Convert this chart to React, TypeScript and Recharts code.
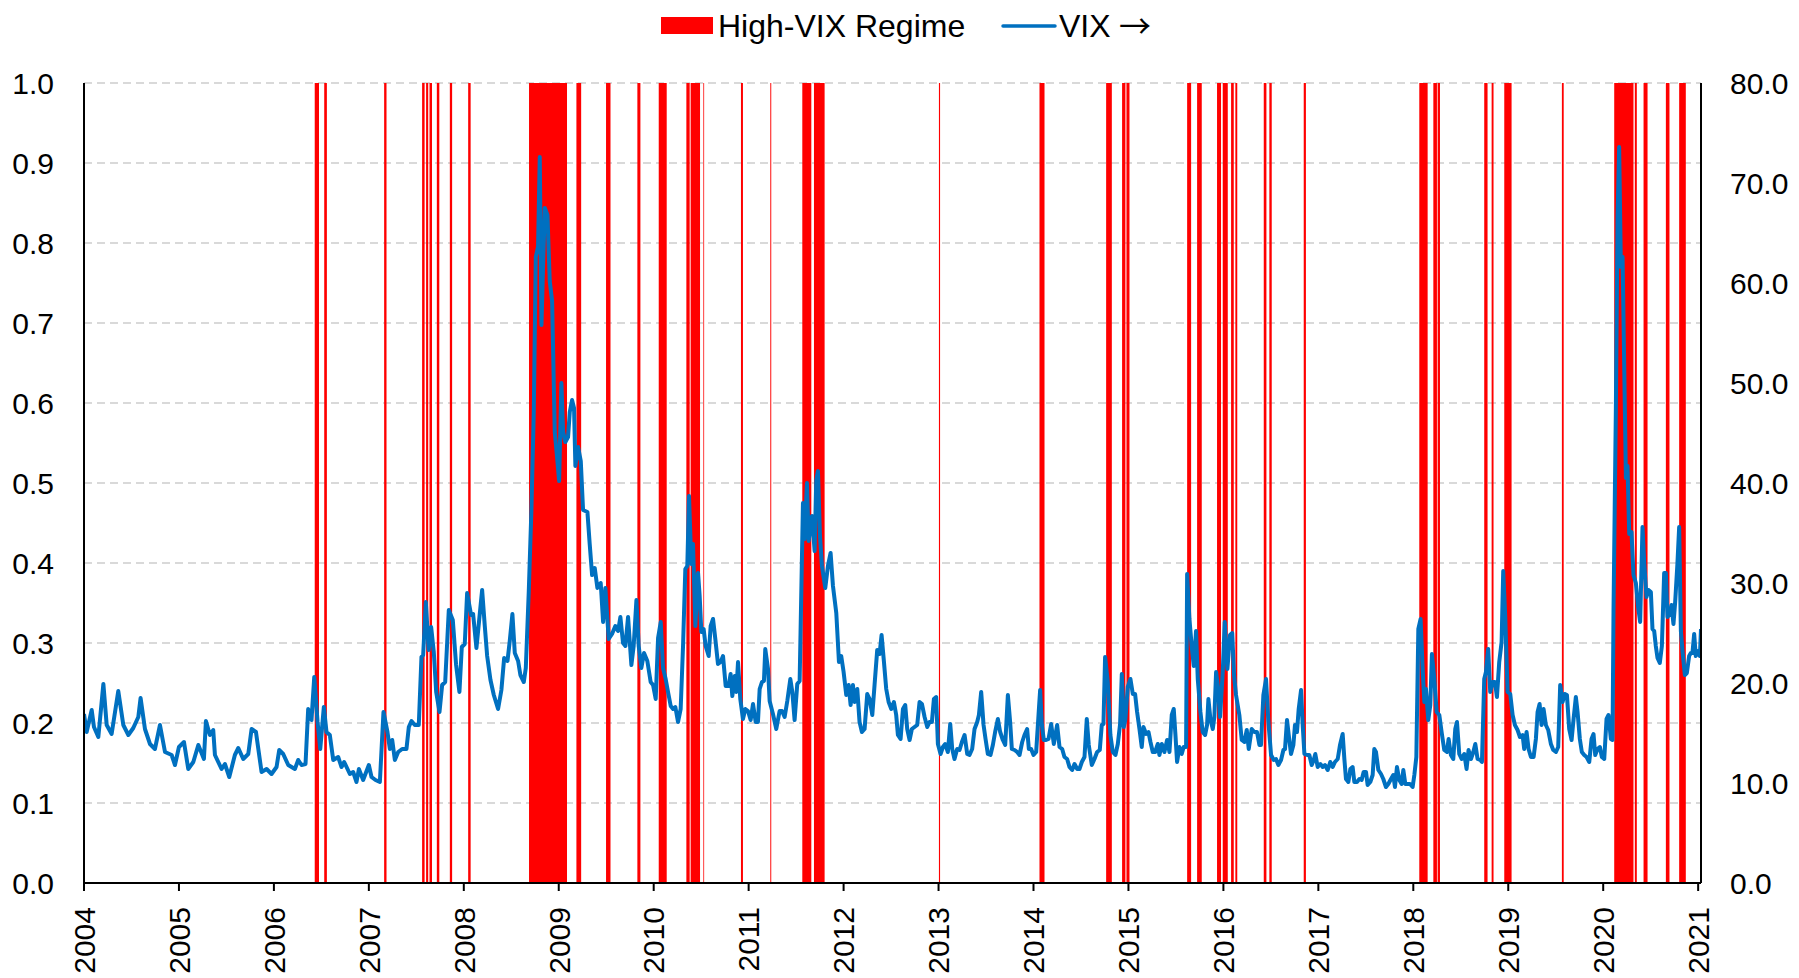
import { ComposedChart, Area, Line, XAxis, YAxis, CartesianGrid } from 'recharts'

// weekly-ish VIX readings: [year fraction, level]
const vix2004 = [
  [2004.0, 16.9], [2004.028, 15.1], [2004.081, 17.3], [2004.105, 15.6], [2004.151, 14.6], [2004.204, 19.9],
  [2004.239, 15.8], [2004.291, 14.9], [2004.361, 19.2], [2004.414, 15.8], [2004.467, 14.8], [2004.519, 15.5],
  [2004.572, 16.6], [2004.596, 18.5], [2004.642, 15.4], [2004.695, 13.9], [2004.747, 13.4], [2004.8, 15.8],
  [2004.853, 13.1], [2004.923, 12.8], [2004.958, 11.8],
]
const vix2005 = [
  [2005.0, 13.6], [2005.053, 14.1], [2005.098, 11.4], [2005.151, 12.1], [2005.204, 13.8], [2005.263, 12.4],
  [2005.284, 16.2], [2005.326, 14.8], [2005.361, 15.3], [2005.379, 12.8], [2005.449, 11.4], [2005.484, 11.9],
  [2005.53, 10.6], [2005.589, 12.8], [2005.625, 13.5], [2005.677, 12.4], [2005.73, 12.9], [2005.765, 15.4],
  [2005.811, 15.1], [2005.87, 11.1], [2005.923, 11.4], [2005.975, 10.9],
]
const vix2006 = [
  [2006.028, 11.6], [2006.056, 13.3], [2006.098, 12.9], [2006.151, 11.8], [2006.221, 11.4], [2006.256, 12.3],
  [2006.291, 11.8], [2006.333, 11.9], [2006.361, 17.4], [2006.396, 16.3], [2006.425, 20.6], [2006.46, 16.1],
  [2006.488, 13.4], [2006.526, 17.6], [2006.554, 15.1], [2006.589, 14.8], [2006.625, 12.3], [2006.677, 12.6],
  [2006.712, 11.6], [2006.74, 12.1], [2006.8, 10.9], [2006.835, 11.1], [2006.87, 10.1], [2006.895, 11.4],
  [2006.94, 10.3],
]
const vix2007 = [
  [2007.0, 11.8], [2007.028, 10.6], [2007.07, 10.3], [2007.116, 10.1], [2007.154, 17.1], [2007.196, 15.1],
  [2007.221, 13.4], [2007.246, 14.3], [2007.274, 12.3], [2007.309, 13.1], [2007.351, 13.4], [2007.396, 13.4],
  [2007.421, 15.6], [2007.449, 16.2], [2007.484, 15.8], [2007.526, 15.8], [2007.554, 22.6], [2007.572, 22.8],
  [2007.6, 28.1], [2007.63, 23.3], [2007.656, 25.6], [2007.684, 23.1], [2007.709, 19.1], [2007.744, 17.1],
  [2007.772, 19.8], [2007.804, 20.1], [2007.842, 27.3], [2007.884, 26.3], [2007.919, 21.8], [2007.954, 19.1],
  [2007.979, 23.6],
]
const vix2008 = [
  [2008.01, 23.9], [2008.035, 29.0], [2008.077, 26.8], [2008.098, 26.9], [2008.133, 23.5], [2008.168, 26.9],
  [2008.193, 29.3], [2008.221, 25.7], [2008.246, 22.7], [2008.281, 20.3], [2008.316, 18.8], [2008.361, 17.4],
  [2008.396, 19.3], [2008.425, 22.5], [2008.46, 22.2], [2008.484, 24.2], [2008.512, 26.9], [2008.537, 23.0],
  [2008.572, 22.2], [2008.596, 20.8], [2008.632, 20.1], [2008.653, 21.5], [2008.684, 29.1], [2008.712, 37.3],
  [2008.737, 47.1], [2008.758, 62.6], [2008.782, 63.6], [2008.8, 72.6], [2008.818, 55.8], [2008.835, 61.7],
  [2008.853, 67.5], [2008.881, 66.8], [2008.905, 60.2], [2008.93, 58.2], [2008.958, 45.1], [2008.986, 42.2],
]
const vix2009 = [
  [2009.004, 40.2], [2009.028, 50.0], [2009.046, 45.1], [2009.07, 44.1], [2009.098, 44.6], [2009.116, 47.1],
  [2009.14, 48.3], [2009.161, 47.5], [2009.175, 41.7], [2009.204, 43.6], [2009.232, 42.2], [2009.256, 37.3],
  [2009.302, 37.1], [2009.326, 33.9], [2009.351, 30.8], [2009.379, 31.5], [2009.407, 29.5], [2009.442, 30.0],
  [2009.467, 26.1], [2009.491, 29.5], [2009.526, 24.4], [2009.561, 24.9], [2009.596, 25.7], [2009.625, 25.2],
  [2009.649, 26.6], [2009.677, 24.0], [2009.702, 23.7], [2009.73, 26.6], [2009.765, 21.8], [2009.789, 23.7],
  [2009.818, 28.3], [2009.842, 23.7], [2009.87, 21.5], [2009.898, 23.0], [2009.933, 22.2], [2009.968, 20.1],
  [2009.993, 19.8],
]
const vix2010 = [
  [2010.021, 18.4], [2010.046, 24.5], [2010.074, 26.1], [2010.098, 21.5], [2010.126, 20.4], [2010.151, 19.1],
  [2010.179, 17.7], [2010.204, 17.4], [2010.228, 17.6], [2010.256, 16.1], [2010.284, 17.4], [2010.309, 23.7],
  [2010.333, 31.4], [2010.354, 31.7], [2010.372, 38.7], [2010.396, 31.9], [2010.414, 33.9], [2010.439, 25.7],
  [2010.467, 31.0], [2010.484, 28.7], [2010.502, 25.1], [2010.526, 25.4], [2010.547, 23.7], [2010.579, 22.7],
  [2010.6, 25.7], [2010.625, 26.4], [2010.649, 24.4], [2010.677, 21.9], [2010.705, 22.1], [2010.73, 22.7],
  [2010.758, 19.7], [2010.789, 19.7], [2010.81, 20.9], [2010.828, 18.7], [2010.853, 20.7], [2010.87, 19.1],
  [2010.888, 22.1], [2010.912, 18.4], [2010.94, 16.4], [2010.965, 17.4], [2010.993, 17.2],
]
const vix2011 = [
  [2011.021, 16.3], [2011.046, 17.9], [2011.074, 16.1], [2011.098, 16.1], [2011.116, 19.4], [2011.14, 20.1],
  [2011.161, 20.2], [2011.175, 23.4], [2011.204, 21.4], [2011.221, 18.2], [2011.256, 16.9], [2011.291, 15.4],
  [2011.326, 17.2], [2011.351, 17.2], [2011.379, 16.6], [2011.407, 18.2], [2011.439, 20.4], [2011.46, 19.1],
  [2011.484, 16.3], [2011.512, 19.9], [2011.537, 20.2], [2011.572, 38.0], [2011.589, 34.4], [2011.614, 40.0],
  [2011.632, 34.2], [2011.649, 35.4], [2011.667, 36.7], [2011.695, 33.2], [2011.712, 40.3], [2011.73, 41.2],
  [2011.751, 34.7], [2011.772, 31.7], [2011.807, 29.5], [2011.835, 31.7], [2011.863, 33.0], [2011.888, 29.7],
  [2011.923, 27.0], [2011.951, 22.1], [2011.975, 22.7],
]
const vix2012 = [
  [2012.0, 21.1], [2012.028, 18.8], [2012.053, 19.8], [2012.074, 17.8], [2012.098, 19.8], [2012.116, 18.1],
  [2012.144, 19.4], [2012.168, 16.1], [2012.193, 15.1], [2012.221, 15.4], [2012.249, 18.9], [2012.274, 18.4],
  [2012.302, 16.8], [2012.326, 19.8], [2012.354, 23.3], [2012.379, 22.9], [2012.4, 24.8], [2012.425, 22.1],
  [2012.449, 19.4], [2012.474, 18.1], [2012.502, 17.4], [2012.53, 18.1], [2012.554, 16.8], [2012.572, 14.8],
  [2012.6, 14.4], [2012.625, 17.4], [2012.649, 17.8], [2012.67, 15.4], [2012.695, 14.3], [2012.719, 15.4],
  [2012.747, 15.6], [2012.775, 15.8], [2012.8, 18.1], [2012.825, 17.9], [2012.853, 16.6], [2012.881, 15.6],
  [2012.905, 16.1], [2012.93, 16.1], [2012.951, 18.4], [2012.975, 18.6], [2012.993, 13.9],
]
const vix2013 = [
  [2013.021, 12.9], [2013.046, 13.6], [2013.07, 13.9], [2013.098, 13.1], [2013.123, 15.9], [2013.144, 13.4],
  [2013.168, 12.4], [2013.196, 13.4], [2013.221, 13.3], [2013.246, 14.1], [2013.274, 14.8], [2013.302, 12.9],
  [2013.326, 12.8], [2013.354, 13.4], [2013.379, 15.4], [2013.407, 16.1], [2013.425, 16.8], [2013.449, 19.1],
  [2013.474, 15.8], [2013.495, 14.4], [2013.519, 12.9], [2013.547, 12.8], [2013.572, 13.8], [2013.596, 15.1],
  [2013.625, 16.4], [2013.649, 15.1], [2013.677, 14.3], [2013.702, 13.8], [2013.73, 18.8], [2013.754, 16.1],
  [2013.772, 13.4], [2013.8, 13.3], [2013.828, 13.1], [2013.853, 12.8], [2013.881, 14.1], [2013.905, 14.8],
  [2013.933, 15.4], [2013.951, 13.4], [2013.975, 13.4],
]
const vix2014 = [
  [2014.0, 12.8], [2014.028, 13.1], [2014.053, 16.8], [2014.07, 19.3], [2014.088, 15.8], [2014.109, 14.3],
  [2014.133, 14.3], [2014.158, 14.4], [2014.186, 15.9], [2014.214, 13.9], [2014.249, 15.8], [2014.274, 13.6],
  [2014.302, 13.4], [2014.326, 12.6], [2014.354, 12.4], [2014.379, 11.6], [2014.407, 11.3], [2014.432, 11.9],
  [2014.46, 11.4], [2014.484, 11.4], [2014.509, 12.1], [2014.537, 12.6], [2014.561, 16.4], [2014.582, 13.8],
  [2014.614, 11.8], [2014.642, 12.4], [2014.67, 13.1], [2014.698, 13.3], [2014.719, 15.8], [2014.737, 15.9],
  [2014.754, 22.6], [2014.782, 20.1], [2014.81, 14.8], [2014.835, 13.1], [2014.863, 12.8], [2014.888, 13.9],
  [2014.912, 15.9], [2014.93, 20.9], [2014.951, 15.6], [2014.968, 16.4], [2014.993, 19.6],
]
const vix2015 = [
  [2015.021, 20.4], [2015.046, 18.9], [2015.07, 18.9], [2015.091, 17.1], [2015.116, 15.4], [2015.14, 13.6],
  [2015.158, 15.6], [2015.186, 14.9], [2015.211, 15.1], [2015.232, 14.1], [2015.256, 13.1], [2015.281, 13.1],
  [2015.309, 13.9], [2015.326, 12.8], [2015.351, 13.9], [2015.379, 13.1], [2015.407, 14.3], [2015.432, 13.1],
  [2015.456, 16.8], [2015.477, 17.4], [2015.495, 14.8], [2015.512, 12.1], [2015.537, 13.6], [2015.561, 12.9],
  [2015.582, 13.6], [2015.607, 13.6], [2015.618, 30.9], [2015.642, 26.4], [2015.667, 23.6], [2015.688, 21.7],
  [2015.712, 25.2], [2015.73, 20.4], [2015.758, 17.1], [2015.782, 15.1], [2015.807, 14.8], [2015.828, 15.8],
  [2015.842, 18.4], [2015.863, 16.4], [2015.888, 15.4], [2015.905, 16.6], [2015.923, 21.1], [2015.94, 19.8],
  [2015.965, 16.6], [2015.993, 21.1],
]
const vix2016 = [
  [2016.014, 26.1], [2016.042, 21.4], [2016.07, 24.8], [2016.093, 25.0], [2016.112, 20.8], [2016.133, 18.8],
  [2016.168, 16.8], [2016.193, 14.3], [2016.221, 14.1], [2016.246, 15.3], [2016.267, 13.4], [2016.298, 15.4],
  [2016.326, 15.1], [2016.354, 15.1], [2016.379, 13.8], [2016.396, 13.8], [2016.421, 18.8], [2016.449, 20.4],
  [2016.474, 16.1], [2016.502, 12.8], [2016.53, 12.3], [2016.554, 12.4], [2016.579, 11.8], [2016.607, 12.3],
  [2016.632, 13.3], [2016.649, 13.4], [2016.67, 16.3], [2016.688, 14.8], [2016.712, 12.9], [2016.737, 13.8],
  [2016.754, 15.8], [2016.775, 15.1], [2016.793, 17.4], [2016.818, 19.3], [2016.835, 15.8], [2016.853, 12.9],
  [2016.881, 12.8], [2016.905, 12.8], [2016.93, 11.8], [2016.951, 12.3], [2016.968, 12.9], [2016.993, 11.6],
]
const vix2017 = [
  [2017.021, 11.9], [2017.046, 11.6], [2017.07, 11.8], [2017.098, 11.3], [2017.126, 12.1], [2017.151, 11.6],
  [2017.175, 12.1], [2017.204, 12.4], [2017.228, 13.8], [2017.256, 14.9], [2017.274, 12.4], [2017.291, 10.4],
  [2017.316, 10.1], [2017.337, 11.4], [2017.361, 11.6], [2017.379, 10.1], [2017.407, 10.1], [2017.432, 10.4],
  [2017.456, 10.3], [2017.477, 11.1], [2017.502, 11.1], [2017.519, 9.8], [2017.547, 10.1], [2017.572, 10.8],
  [2017.589, 13.4], [2017.607, 13.1], [2017.632, 11.3], [2017.66, 10.9], [2017.684, 10.4], [2017.712, 9.6],
  [2017.737, 9.9], [2017.765, 10.4], [2017.789, 10.8], [2017.807, 9.6], [2017.828, 11.6], [2017.853, 10.3],
  [2017.877, 9.9], [2017.895, 11.3], [2017.916, 9.9], [2017.94, 9.9], [2017.965, 9.9], [2017.993, 9.6],
]
const vix2018 = [
  [2018.011, 10.8], [2018.032, 12.6], [2018.053, 25.4], [2018.077, 26.4], [2018.098, 21.5], [2018.116, 18.1],
  [2018.133, 19.4], [2018.158, 16.3], [2018.179, 17.8], [2018.196, 22.9], [2018.221, 20.4], [2018.246, 17.1],
  [2018.274, 16.8], [2018.298, 15.1], [2018.326, 13.3], [2018.354, 13.1], [2018.372, 14.4], [2018.396, 12.8],
  [2018.421, 12.4], [2018.442, 15.4], [2018.46, 16.1], [2018.484, 12.9], [2018.509, 12.4], [2018.537, 12.9],
  [2018.561, 11.4], [2018.582, 13.3], [2018.607, 12.4], [2018.632, 13.1], [2018.653, 13.9], [2018.677, 12.4],
  [2018.705, 12.3], [2018.723, 12.1], [2018.747, 20.4], [2018.765, 21.1], [2018.789, 23.4], [2018.81, 19.1],
  [2018.835, 20.1], [2018.86, 20.1], [2018.881, 18.6], [2018.905, 22.1], [2018.93, 24.1], [2018.947, 31.2],
  [2018.968, 26.7], [2018.993, 19.1],
]
const vix2019 = [
  [2019.021, 18.9], [2019.046, 16.8], [2019.07, 15.8], [2019.098, 15.3], [2019.123, 14.6], [2019.151, 14.8],
  [2019.168, 13.4], [2019.193, 15.1], [2019.214, 13.4], [2019.239, 12.6], [2019.267, 12.6], [2019.291, 14.4],
  [2019.309, 17.1], [2019.33, 17.9], [2019.351, 15.8], [2019.372, 17.4], [2019.396, 15.8], [2019.421, 15.3],
  [2019.449, 13.9], [2019.474, 13.3], [2019.502, 13.1], [2019.526, 13.6], [2019.547, 19.8], [2019.572, 18.1],
  [2019.596, 18.9], [2019.618, 18.8], [2019.642, 15.4], [2019.667, 14.3], [2019.688, 16.4], [2019.712, 18.6],
  [2019.73, 17.1], [2019.754, 14.4], [2019.775, 13.1], [2019.8, 12.8], [2019.825, 12.6], [2019.853, 12.1],
  [2019.877, 14.4], [2019.898, 14.9], [2019.916, 12.8], [2019.94, 13.4], [2019.965, 13.6], [2019.986, 12.6],
]
const vix2020 = [
  [2020.011, 12.4], [2020.035, 16.4], [2020.056, 16.8], [2020.081, 14.4], [2020.098, 14.3], [2020.109, 27.6],
  [2020.133, 47.1], [2020.151, 66.5], [2020.168, 73.6], [2020.186, 61.6], [2020.204, 62.6], [2020.221, 51.9],
  [2020.239, 40.5], [2020.256, 41.7], [2020.274, 34.9], [2020.298, 35.1], [2020.319, 30.8], [2020.344, 30.0],
  [2020.368, 27.6], [2020.389, 26.1], [2020.414, 35.6], [2020.432, 32.0], [2020.456, 28.6], [2020.477, 29.3],
  [2020.502, 29.1], [2020.519, 25.4], [2020.537, 25.2], [2020.554, 23.7], [2020.572, 22.5], [2020.596, 22.0],
  [2020.618, 23.7], [2020.642, 31.0], [2020.66, 31.0], [2020.677, 26.6], [2020.702, 26.9], [2020.719, 27.8],
  [2020.74, 25.9], [2020.758, 28.1], [2020.782, 32.0], [2020.8, 35.6], [2020.818, 25.2], [2020.835, 23.2],
  [2020.86, 20.8], [2020.881, 21.0], [2020.905, 22.7], [2020.923, 23.0], [2020.94, 23.0], [2020.958, 24.9],
  [2020.975, 22.7],
]
const vix2021 = [[2021.0, 23.2], [2021.018, 22.7], [2021.03, 25.4]]

// high-VIX regime spells: [start, end] in year fractions
const regimeSpells = [
  [2006.43, 2006.475], [2006.53, 2006.558], [2007.161, 2007.186], [2007.561, 2007.587], [2007.603, 2007.625],
  [2007.639, 2007.665], [2007.716, 2007.742], [2007.853, 2007.877], [2008.046, 2008.072], [2008.687, 2009.087],
  [2009.186, 2009.236], [2009.498, 2009.545], [2009.828, 2009.86], [2010.053, 2010.137], [2010.344, 2010.379],
  [2010.389, 2010.488], [2010.523, 2010.531], [2010.919, 2010.94], [2011.228, 2011.238], [2011.565, 2011.66],
  [2011.688, 2011.8], [2013.004, 2013.016], [2014.063, 2014.116], [2014.765, 2014.825], [2014.933, 2014.968],
  [2014.979, 2015.011], [2015.618, 2015.66], [2015.723, 2015.772], [2015.933, 2015.975], [2015.993, 2016.046],
  [2016.081, 2016.109], [2016.126, 2016.146], [2016.425, 2016.453], [2016.484, 2016.509], [2016.846, 2016.869],
  [2018.063, 2018.151], [2018.211, 2018.249], [2018.256, 2018.281], [2018.747, 2018.782], [2018.825, 2018.845],
  [2018.958, 2019.035], [2019.565, 2019.584], [2020.116, 2020.319], [2020.333, 2020.354], [2020.425, 2020.467],
  [2020.66, 2020.698], [2020.8, 2020.87],
]

const yearTicks = [2004, 2005, 2006, 2007, 2008, 2009, 2010, 2011, 2012, 2013, 2014, 2015, 2016, 2017, 2018, 2019, 2020, 2021]
const regimeTicks = [0, 0.1, 0.2, 0.3, 0.4, 0.5, 0.6, 0.7, 0.8, 0.9, 1]
const vixTicks = [0, 10, 20, 30, 40, 50, 60, 70, 80]

const FONT = '"Liberation Sans", Arial, sans-serif'
const BLUE = '#0070C0'
const RED = '#FF0000'

const vixPoints = [
  ...vix2004, ...vix2005, ...vix2006, ...vix2007, ...vix2008, ...vix2009, ...vix2010, ...vix2011, ...vix2012,
  ...vix2013, ...vix2014, ...vix2015, ...vix2016, ...vix2017, ...vix2018, ...vix2019, ...vix2020, ...vix2021,
]

const inRegime = (t: number) => (regimeSpells.some(([a, b]) => t >= a && t < b) ? 1 : 0)

const chartData = [
  ...vixPoints.map(([t, v]) => ({ t, vix: v, regime: inRegime(t) })),
  ...regimeSpells.flatMap(([a, b]) => [
    { t: a, regime: 1 },
    { t: b, regime: 0 },
  ]),
].sort((p, q) => p.t - q.t)

const YearTick = ({ x, y, payload }: any) => (
  <text
    x={x}
    y={y}
    transform={`rotate(-90 ${x} ${y})`}
    textAnchor='end'
    dy='0.36em'
    fill='#000'
    fontSize={30}
    fontFamily={FONT}
  >
    {payload.value}
  </text>
)

const axisLine = { stroke: '#000', strokeWidth: 2 }
const tickStyle = { fill: '#000', fontSize: 30, fontFamily: FONT }

export default function App() {
  return (
    <div style={{ position: 'fixed', left: 0, top: 0, width: 1799, height: 978, background: '#fff' }}>
      <svg width={1799} height={60} style={{ position: 'absolute', left: 0, top: 0 }}>
        <rect x={661} y={17} width={52} height={17} fill={RED} />
        <text x={718} y={37} fontSize={32} fontFamily={FONT} fill='#000'>
          High-VIX Regime
        </text>
        <line x1={1003} y1={26} x2={1055} y2={26} stroke={BLUE} strokeWidth={3.5} strokeLinecap='round' />
        <text x={1059} y={37} fontSize={32} fontFamily={FONT} fill='#000'>
          VIX
        </text>
        <text x={1119} y={38} fontSize={32} fontFamily='"Noto Sans CJK SC", "DejaVu Sans", sans-serif' fill='#000'>
          →
        </text>
      </svg>
      <div style={{ position: 'absolute', left: 0, top: 0 }}>
        <ComposedChart width={1799} height={978} data={chartData} margin={{ top: 83, right: 0, bottom: 0, left: 0 }}>
          <CartesianGrid
            yAxisId='left'
            vertical={false}
            stroke='#d9d9d9'
            strokeWidth={2}
            strokeDasharray='8 5'
          />
          <XAxis
            dataKey='t'
            type='number'
            domain={[2004, 2021.03]}
            allowDataOverflow
            ticks={yearTicks}
            interval={0}
            height={95}
            tickSize={8}
            tickMargin={16}
            tickLine={axisLine}
            axisLine={axisLine}
            tick={<YearTick />}
          />
          <YAxis
            yAxisId='left'
            domain={[0, 1]}
            ticks={regimeTicks}
            interval={0}
            width={84}
            tickLine={false}
            tickSize={0}
            tickMargin={30}
            axisLine={axisLine}
            tick={tickStyle}
            tickFormatter={(v: number) => v.toFixed(1)}
          />
          <YAxis
            yAxisId='right'
            orientation='right'
            domain={[0, 80]}
            ticks={vixTicks}
            interval={0}
            width={98}
            tickLine={false}
            tickSize={0}
            tickMargin={29}
            axisLine={axisLine}
            tick={tickStyle}
            tickFormatter={(v: number) => v.toFixed(1)}
          />
          <Area
            yAxisId='left'
            dataKey='regime'
            type='stepAfter'
            fill={RED}
            fillOpacity={1}
            stroke='none'
            isAnimationActive={false}
            name='High-VIX Regime'
          />
          <Line
            yAxisId='right'
            dataKey='vix'
            type='linear'
            stroke={BLUE}
            strokeWidth={4}
            strokeLinejoin='round'
            dot={false}
            activeDot={false}
            connectNulls
            isAnimationActive={false}
            name='VIX →'
          />
        </ComposedChart>
      </div>
    </div>
  )
}
